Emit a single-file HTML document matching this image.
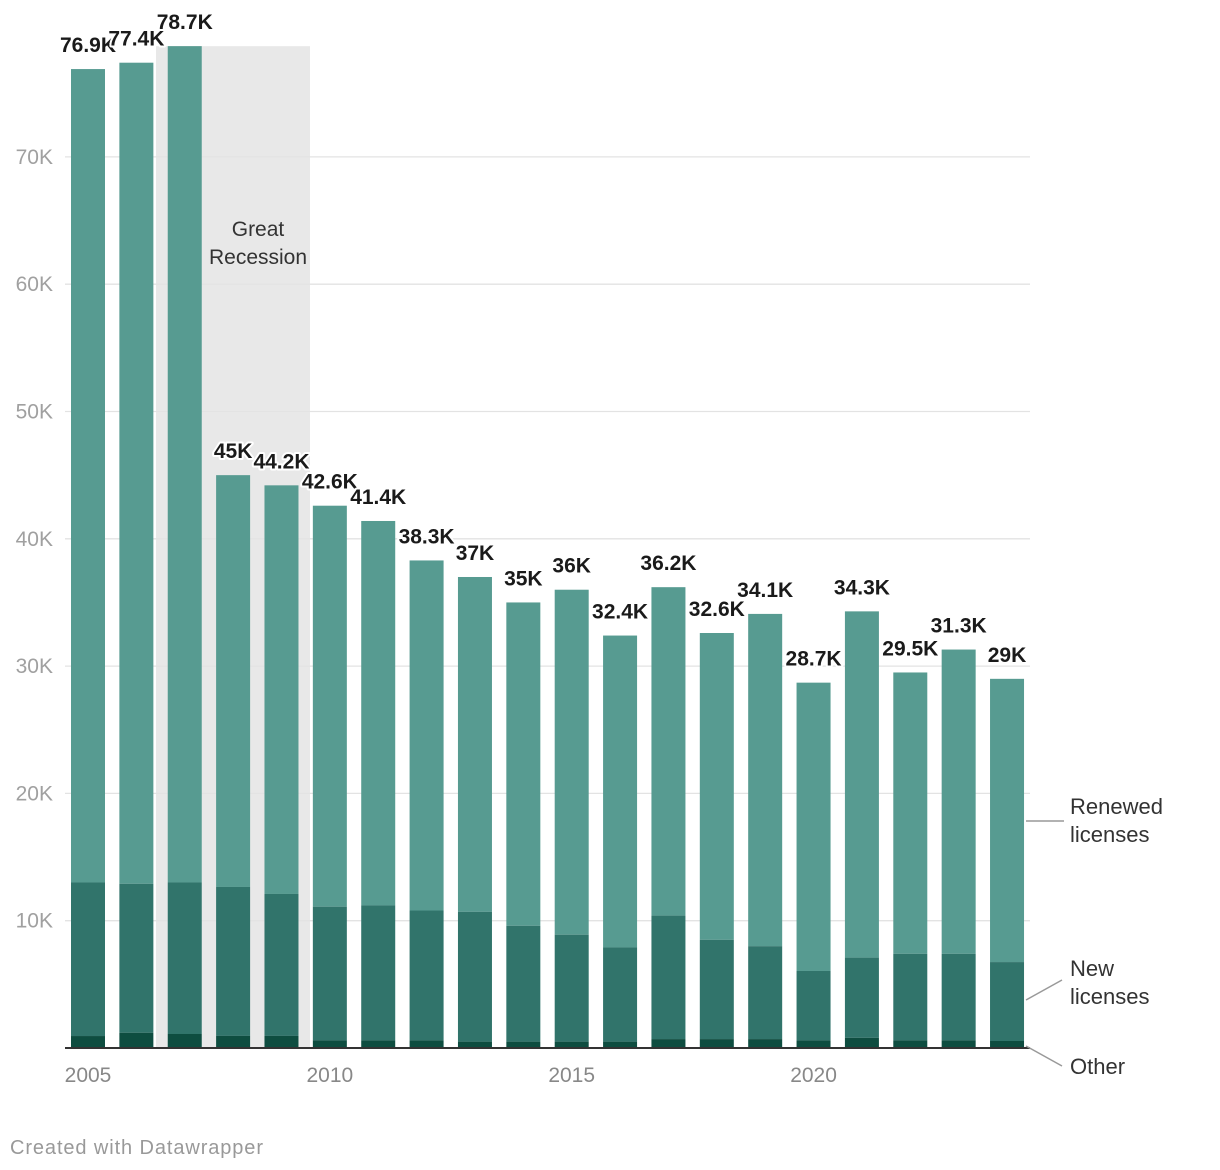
<!DOCTYPE html>
<html><head><meta charset="utf-8"><style>
body{margin:0;background:#fff;font-family:"Liberation Sans",sans-serif}
svg{display:block}
</style></head><body>
<svg id="c" width="1220" height="1170"></svg>
<script>
const years=[2005,2006,2007,2008,2009,2010,2011,2012,2013,2014,2015,2016,2017,2018,2019,2020,2021,2022,2023,2024];
const totals=[76.9,77.4,78.7,45,44.2,42.6,41.4,38.3,37,35,36,32.4,36.2,32.6,34.1,28.7,34.3,29.5,31.3,29];
const totalLabels=["76.9K","77.4K","78.7K","45K","44.2K","42.6K","41.4K","38.3K","37K","35K","36K","32.4K","36.2K","32.6K","34.1K","28.7K","34.3K","29.5K","31.3K","29K"];
const other=[0.94,1.2,1.1,0.95,0.95,0.6,0.6,0.6,0.5,0.5,0.5,0.5,0.7,0.7,0.7,0.6,0.8,0.6,0.6,0.55];
const newAndOther=[13.0,12.9,13.0,12.65,12.1,11.1,11.2,10.8,10.7,9.6,8.9,7.9,10.4,8.5,8.0,6.05,7.1,7.4,7.4,6.75];
const yTicks=[10,20,30,40,50,60,70];
const xTickYears=[2005,2010,2015,2020];
const NS="http://www.w3.org/2000/svg";
const svg=document.getElementById('c');
const y=v=>1048-v*12.73;
const xc=yr=>88+(yr-2005)*48.37;
const bw=34;
function el(t,a,p){const e=document.createElementNS(NS,t);for(const k in a)e.setAttribute(k,a[k]);(p||svg).appendChild(e);return e;}
let sh=el('rect',{x:156,y:y(78.7),width:154,height:y(0)-y(78.7),fill:'#e8e8e8'});


let st=el('text',{x:258,y:236,'text-anchor':'middle','font-size':21,fill:'#333'});


st.innerHTML='<tspan x="258">Great</tspan><tspan x="258" dy="28">Recession</tspan>';
yTicks.forEach(v=>{
  let g=el('line',{x1:65,x2:1030,y1:y(v*1),y2:y(v*1),stroke:'#e3e3e3','stroke-width':1.3});
  
  
  let t=el('text',{x:53,y:y(v)+7,'text-anchor':'end','font-size':21,fill:'#a0a0a0'});
  
  
  t.textContent=v+'K';
});
years.forEach((yr,i)=>{
  const x=xc(yr)-bw/2;
  let r1=el('rect',{x:x,y:y(totals[i]),width:bw,height:y(newAndOther[i])-y(totals[i]),fill:'#579b91'});
  
  
  let r2=el('rect',{x:x,y:y(newAndOther[i]),width:bw,height:y(other[i])-y(newAndOther[i]),fill:'#31746b'});
  
  
  let r3=el('rect',{x:x,y:y(other[i]),width:bw,height:y(0)-y(other[i]),fill:'#0e4d40'});
  
  
});
years.forEach((yr,i)=>{
  let t=el('text',{x:xc(yr),y:y(totals[i])-17,'text-anchor':'middle','font-size':21,'font-weight':'bold',fill:'#1a1a1a',stroke:'#fff','stroke-width':4,'paint-order':'stroke','stroke-linejoin':'round'});
  
  
  t.textContent=totalLabels[i];
});
let ax=el('line',{x1:65,x2:1030,y1:1048,y2:1048,stroke:'#333','stroke-width':2});


xTickYears.forEach(yr=>{
  let t=el('text',{x:xc(yr),y:1082,'text-anchor':'middle','font-size':21,fill:'#888'});
  
  
  t.textContent=yr;
});
function lab(name,lines,ty,lx1,ly1,lx2,ly2){
  let l=el('line',{x1:lx1,y1:ly1,x2:lx2,y2:ly2,stroke:'#999','stroke-width':1.5});
  
  
  let t=el('text',{x:1070,y:ty,'font-size':22,fill:'#333'});
  
  
  t.innerHTML=lines.map((s,k)=>'<tspan x="1070" dy="'+(k?28:0)+'">'+s+'</tspan>').join('');
}
lab('renewed',['Renewed','licenses'],814,1026,821,1064,821);
lab('new',['New','licenses'],976,1026,1000,1062,980);
lab('other',['Other'],1074,1026,1046,1062,1066);
let f=el('text',{x:10,y:1154,'font-size':20,fill:'#999','textLength':253});


f.textContent='Created with Datawrapper';
</script>
</body></html>
